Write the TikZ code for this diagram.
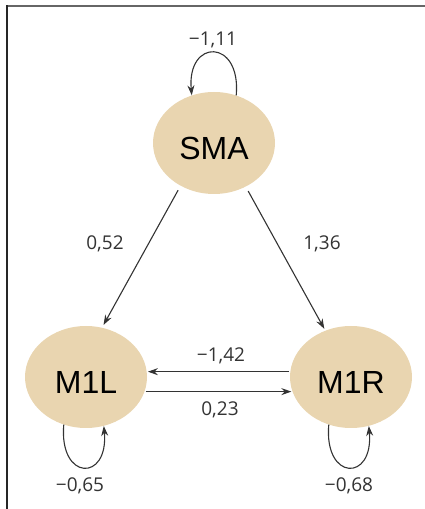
\documentclass[tikz,border=0pt]{standalone}
\usepackage{fontspec}
\setmainfont{Liberation Sans}
\newfontfamily\weightfont{Open Sans}
\usepackage{tikz}
\usetikzlibrary{arrows.meta,positioning,shapes}
\definecolor{beige}{RGB}{233,213,176}

\begin{document}
\begin{tikzpicture}[x=1pt,y=1pt]
\tikzstyle{area}=[ellipse,fill=beige,minimum width=122pt,minimum height=102pt,inner sep=0pt,text height=33pt,text depth=0pt,font=\fontsize{32}{32}\selectfont]
\tikzstyle{arrow}=[draw=black!80,line width=1.1pt,-{Stealth[length=10pt,width=7pt]}]
\tikzstyle{weight}=[text=black!80,font=\weightfont\fontsize{19}{19}\selectfont]
\useasboundingbox (0,0) rectangle (425,509);
\draw [line width=2pt,black!60] (6.5,502.5) -- (425,502.5);
\draw [line width=2pt,black!85] (6.5,0) -- (6.5,503.5);
\node [area] at (214,366) (sma) {SMA};
\node [area] at (86,132) (m1l) {M1L};
\node [area,right of=m1l,node distance=265pt] (m1r) {M1R};
\draw [arrow,shorten <=5pt,shorten >=3pt] (sma.232) -- (m1l.72);
\draw [arrow,shorten <=5pt,shorten >=2pt] (sma.306) -- (m1r.119);
\draw [arrow,shorten <=1pt,shorten >=1pt] (m1r.175) -- (m1l.5);
\draw [arrow,shorten <=1pt,shorten >=1pt] (m1l.-14) -- (m1r.194);
\draw [arrow] (sma.65) to [out=85,in=95,looseness=3.3] (sma.115);
\draw [arrow] (m1l.245) to [out=-95,in=-85,looseness=3.6] (m1l.290);
\draw [arrow] (m1r.245) to [out=-95,in=-85,looseness=3.6] (m1r.290);
\node [weight] at (213,469) (wsma) {−1,11};
\node [weight] at (105,265) (wl) {0,52};
\node [weight] at (322,265) (wr) {1,36};
\node [weight] at (221,153) (wrl) {−1,42};
\node [weight] at (220,99) (wlr) {0,23};
\node [weight] at (80,23) (wm1l) {−0,65};
\node [weight] at (349,23) (wm1r) {−0,68};
\end{tikzpicture}
\end{document}
